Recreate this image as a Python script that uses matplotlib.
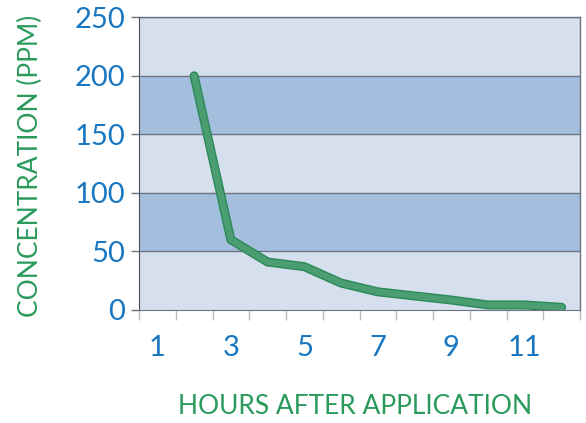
import matplotlib
matplotlib.use("Agg")
import matplotlib.pyplot as plt

# data
hours = [2, 3, 4, 5, 6, 7, 8, 9, 10, 11, 12]
concentration = [200, 60, 41, 37, 23, 15.5, 12, 8.5, 4.3, 4.3, 2.3]
band_edges = [0, 50, 100, 150, 200, 250]
y_ticks = [0, 50, 100, 150, 200, 250]
x_tick_labels = [1, 3, 5, 7, 9, 11]
n_cats = 12

blue_txt = "#1877c0"
green_txt = "#2a9a5c"
light_band = "#d5dfee"
dark_band = "#a4bfde"
grid_col = "#6b7380"

plt.rcParams['font.family'] = ['Lato', 'DejaVu Sans']

fig = plt.figure(figsize=(5.86, 4.23), dpi=100)
ax = fig.add_axes([139/586, 1-310/423, (580-139)/586, (310-17.3)/423])

# alternating horizontal bands
for i in range(len(band_edges)-1):
    c = dark_band if i % 2 == 1 else light_band
    ax.axhspan(band_edges[i], band_edges[i+1], color=c, lw=0, zorder=0)
for y in y_ticks[1:]:
    ax.axhline(y, color=grid_col, lw=1.0, zorder=1)

# line with darker outline
ax.plot(hours, concentration, color="#2b8a58", lw=6.5, solid_capstyle="round",
        solid_joinstyle="round", zorder=3)
ax.plot(hours, concentration, color="#4a9e72", lw=4.5, solid_capstyle="round",
        solid_joinstyle="round", zorder=4)

ax.set_xlim(0.5, n_cats + 0.5)
ax.set_ylim(0, 250)

ax.set_yticks(y_ticks)
ax.set_yticklabels([str(v) for v in y_ticks])
ax.tick_params(axis="y", length=6, width=1, color=grid_col, pad=4,
               labelsize=21, labelcolor=blue_txt)

# category boundaries get the tick marks, labels sit at odd categories
ax.set_xticks([i + 0.5 for i in range(n_cats + 1)])
ax.set_xticklabels([])
ax.set_xticks(x_tick_labels, minor=True)
ax.set_xticklabels([str(v) for v in x_tick_labels], minor=True)
ax.tick_params(axis="x", which="major", length=7, width=1, color="#b8bcc2")
ax.tick_params(axis="x", which="minor", length=0, pad=18,
               labelsize=21, labelcolor=blue_txt)

for side in ["top", "right"]:
    ax.spines[side].set_color(grid_col)
    ax.spines[side].set_linewidth(1.0)
ax.spines["left"].set_color("#4a4f57")
ax.spines["bottom"].set_color(grid_col)

ax.set_ylabel("CONCENTRATION (PPM)", fontsize=19, color=green_txt, va="center")
ax.set_xlabel("HOURS AFTER APPLICATION", fontsize=19, color=green_txt, va="center")
ax.yaxis.set_label_coords(-0.245, 0.494)
ax.xaxis.set_label_coords(0.491, -0.331)

fig.savefig("out.png", dpi=100)
